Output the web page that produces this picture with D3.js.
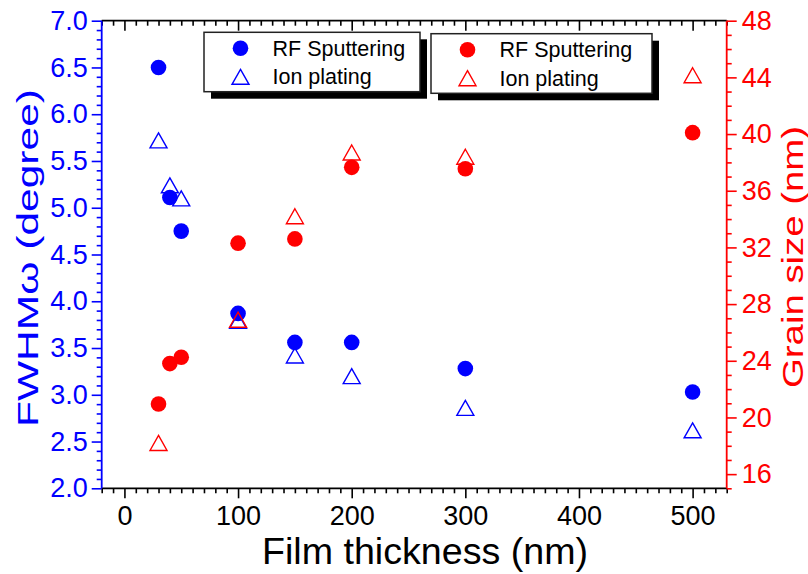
<!DOCTYPE html>
<html><head><meta charset="utf-8">
<script src="https://cdn.jsdelivr.net/npm/d3@7"></script>
<style>body{margin:0;background:#fff} svg{display:block} text{font-family:"Liberation Sans",Arial,sans-serif}</style>
</head><body><svg id="c" width="808" height="574"></svg>
<script>
// ---- data ----
const thickness = [30, 40, 50, 100, 150, 200, 300, 500];
const fwhmRF   = [6.50, 5.11, 4.75, 3.87, 3.56, 3.56, 3.28, 3.03];
const fwhmIon  = [5.72, 5.24, 5.10, 3.79, 3.42, 3.20, 2.86, 2.62];
const grainRF  = [20.95, 23.8, 24.25, 32.3, 32.6, 37.65, 37.55, 40.1];
const grainIon = [18.2, null, null, 26.9, 34.2, 38.7, 38.4, 44.15];
const xTicks = [0, 100, 200, 300, 400, 500];
const yLeftTicks = [2.0, 2.5, 3.0, 3.5, 4.0, 4.5, 5.0, 5.5, 6.0, 6.5, 7.0];
const yRightTicks = [16, 20, 24, 28, 32, 36, 40, 44, 48];
const legendLabels = ["RF Sputtering", "Ion plating"];
const xTitle = "Film thickness (nm)";
const yLeftTitle = "FWHMω (degree)";
const yRightTitle = "Grain size (nm)";

const BLUE = "#0000ff", RED = "#ff0000";
const L = 101.7, R = 726.7, T = 20.7, B = 488.3;
const svg = d3.select("#c");

const x = d3.scaleLinear().domain([-20, 530]).range([L, R]);
const yL = d3.scaleLinear().domain([2, 7]).range([B, T]);
const yR = d3.scaleLinear().domain([15, 48]).range([B, T]);

function styleAxis(g, color) {
  g.select(".domain").remove();
  g.selectAll("line").attr("stroke", color).attr("stroke-width", 1.6);
  g.selectAll("text").attr("fill", color).attr("font-family", '"Liberation Sans",Arial,sans-serif');
}

// minor ticks
const xMinor = d3.range(-20, 531, 10).filter(v => v % 100 !== 0);
const yLMinor = d3.range(20, 71, 1).map(v => v / 10).filter(v => Math.round(v * 10) % 5 !== 0);
const yRMinor = d3.range(15, 49, 1).filter(v => v % 4 !== 0);

// bottom axis
const gB = svg.append("g").attr("transform", `translate(0,${B})`)
  .call(d3.axisBottom(x).tickValues(xTicks).tickFormat(d3.format("d")).tickSize(10).tickPadding(8));
styleAxis(gB, "#000");
gB.selectAll("text").attr("font-size", 27);
svg.append("g").attr("transform", `translate(0,${B})`)
  .call(d3.axisBottom(x).tickValues(xMinor).tickFormat("").tickSize(5))
  .call(g => styleAxis(g, "#000"));

// top axis (ticks inward)
svg.append("g").attr("transform", `translate(0,${T})`)
  .call(d3.axisBottom(x).tickValues(xTicks).tickFormat("").tickSize(10))
  .call(g => styleAxis(g, "#000"));
svg.append("g").attr("transform", `translate(0,${T})`)
  .call(d3.axisBottom(x).tickValues(xMinor).tickFormat("").tickSize(5))
  .call(g => styleAxis(g, "#000"));

// left axis
const gL = svg.append("g").attr("transform", `translate(${L},0)`)
  .call(d3.axisLeft(yL).tickValues(yLeftTicks).tickFormat(d3.format(".1f")).tickSize(10).tickPadding(4));
styleAxis(gL, BLUE);
gL.selectAll("text").attr("font-size", 27);
svg.append("g").attr("transform", `translate(${L},0)`)
  .call(d3.axisLeft(yL).tickValues(yLMinor).tickFormat("").tickSize(5))
  .call(g => styleAxis(g, BLUE));

// right axis
const gR = svg.append("g").attr("transform", `translate(${R},0)`)
  .call(d3.axisRight(yR).tickValues(yRightTicks).tickFormat(d3.format("d")).tickSize(10).tickPadding(5));
styleAxis(gR, RED);
gR.selectAll("text").attr("font-size", 27);
svg.append("g").attr("transform", `translate(${R},0)`)
  .call(d3.axisRight(yR).tickValues(yRMinor).tickFormat("").tickSize(5))
  .call(g => styleAxis(g, RED));

// frame lines
svg.append("line").attr("x1", L).attr("x2", R).attr("y1", T).attr("y2", T).attr("stroke", "#000").attr("stroke-width", 1.8);
svg.append("line").attr("x1", L).attr("x2", R).attr("y1", B).attr("y2", B).attr("stroke", "#000").attr("stroke-width", 1.8);
svg.append("line").attr("x1", L).attr("x2", L).attr("y1", T).attr("y2", B).attr("stroke", BLUE).attr("stroke-width", 1.8);
svg.append("line").attr("x1", R).attr("x2", R).attr("y1", T).attr("y2", B).attr("stroke", RED).attr("stroke-width", 1.8);

// titles
svg.append("text").attr("x", 425).attr("y", 564).attr("text-anchor", "middle")
  .attr("font-size", 36).attr("fill", "#000")
  .attr("textLength", 326).attr("lengthAdjust", "spacingAndGlyphs").text(xTitle);
svg.append("text").attr("transform", `translate(38,258) rotate(-90)`).attr("text-anchor", "middle")
  .attr("font-size", 30).attr("fill", BLUE)
  .attr("textLength", 338).attr("lengthAdjust", "spacingAndGlyphs").text(yLeftTitle);
svg.append("text").attr("transform", `translate(803,257) rotate(-90)`).attr("text-anchor", "middle")
  .attr("font-size", 29).attr("fill", RED)
  .attr("textLength", 262).attr("lengthAdjust", "spacingAndGlyphs").text(yRightTitle);

// symbols
const TW = 17, TH = 15;
const triPath = `M0,${-TH/2}L${TW/2},${TH/2}L${-TW/2},${TH/2}Z`;
function circles(vals, ys, color) {
  svg.append("g").selectAll("circle")
    .data(thickness.map((t, i) => [t, vals[i]]).filter(d => d[1] != null))
    .join("circle").attr("cx", d => x(d[0])).attr("cy", d => ys(d[1])).attr("r", 7.8).attr("fill", color);
}
function triangles(vals, ys, color) {
  svg.append("g").selectAll("path")
    .data(thickness.map((t, i) => [t, vals[i]]).filter(d => d[1] != null))
    .join("path").attr("d", triPath)
    .attr("transform", d => `translate(${x(d[0])},${ys(d[1])})`)
    .attr("fill", "none").attr("stroke", color).attr("stroke-width", 1.4);
}
circles(fwhmRF, yL, BLUE);
triangles(fwhmIon, yL, BLUE);
circles(grainRF, yR, RED);
triangles(grainIon, yR, RED);

// legends
function legend(x0, y0, w, h, color) {
  const g = svg.append("g");
  g.append("rect").attr("x", x0 + 7).attr("y", y0 + 7).attr("width", w).attr("height", h).attr("fill", "#000");
  g.append("rect").attr("x", x0).attr("y", y0).attr("width", w).attr("height", h)
    .attr("fill", "#fff").attr("stroke", "#222").attr("stroke-width", 1.5);
  g.append("circle").attr("cx", x0 + 36.5).attr("cy", y0 + 16).attr("r", 7.8).attr("fill", color);
  g.append("path").attr("d", triPath).attr("transform", `translate(${x0 + 36.5},${y0 + 44.5})`)
    .attr("fill", "none").attr("stroke", color).attr("stroke-width", 1.4);
  legendLabels.forEach((t, i) => {
    g.append("text").attr("x", x0 + 68.5).attr("y", y0 + 16 + i * 28.5 + 7.5)
      .attr("font-size", 21.5).attr("fill", "#000").text(t);
  });
}
legend(204, 32.3, 216, 59.4, BLUE);
legend(431, 33.7, 221, 59.6, RED);
</script></body></html>
